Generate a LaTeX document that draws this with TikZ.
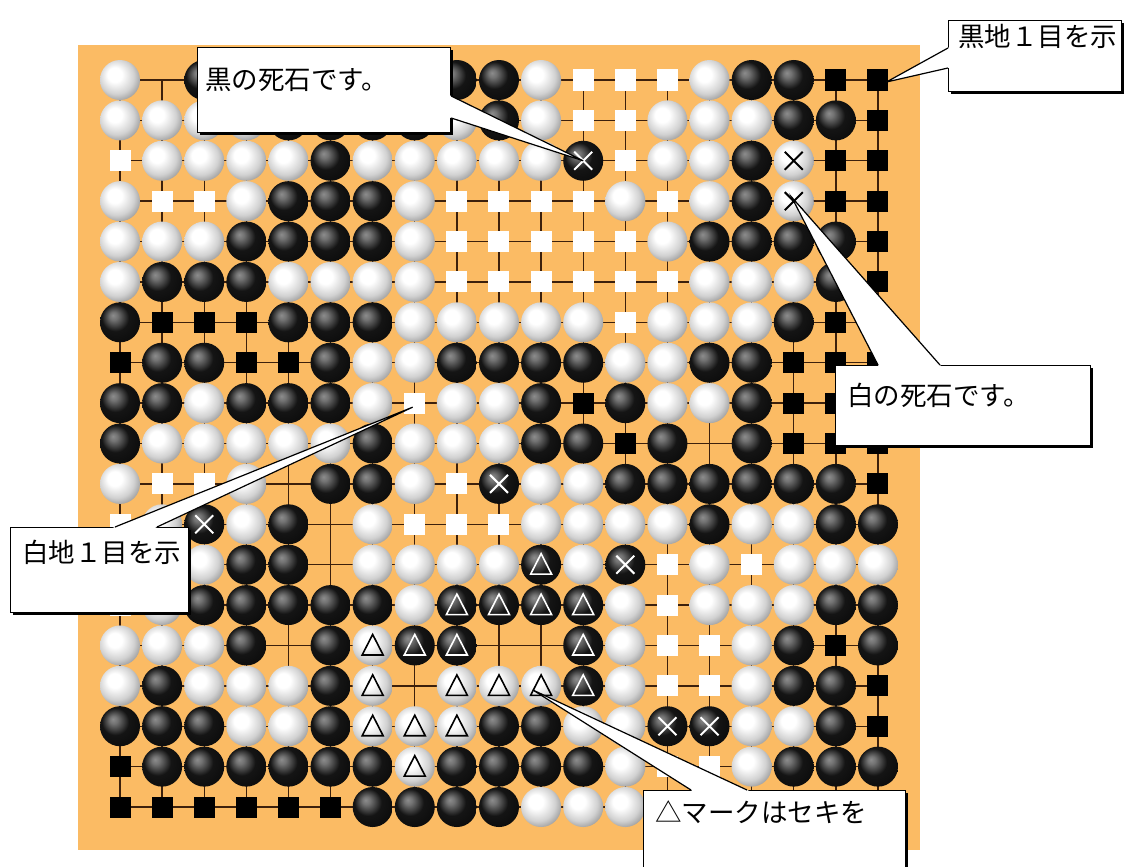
\documentclass[tikz,border=0pt]{standalone}
\usepackage{fontspec}
\newfontfamily\jpfont{Noto Sans CJK JP}
\usetikzlibrary{calc,shadows}

\definecolor{board}{RGB}{251,187,100}
\definecolor{gridbrown}{RGB}{60,32,12}

% stone shadings
\pgfdeclareradialshading{wstone}{\pgfpoint{-8bp}{8bp}}{color(0bp)=(white); color(9bp)=(white); color(22bp)=(black!18); color(30bp)=(black!38); color(50bp)=(black!45)}
\pgfdeclareradialshading{bstone}{\pgfpoint{-9bp}{9bp}}{color(0bp)=(black!45); color(5bp)=(black!55); color(17bp)=(black!92); color(50bp)=(black)}

\tikzset{
  gridline/.style={gridbrown, line width=1.4pt},
  callbox/.style={draw, fill=white, line width=1.2pt, anchor=north west, inner sep=0pt,
    drop shadow={shadow xshift=2pt, shadow yshift=-2pt, opacity=1, fill=black}},
  calltext/.style={anchor=west, inner sep=0pt, font=\jpfont\fontsize{26.5}{30}\selectfont},
}

% W/B stones, w/b territory, X/Y dead (black/white), T/U seki (black/white), n nothing
\newcommand\goW[2]{\shade[shading=wstone] (#1,#2) circle (20pt);}
\newcommand\goB[2]{\shade[shading=bstone] (#1,#2) circle (20pt);}
\newcommand\gow[2]{\fill[white] (#1,#2) ++(-10.5pt,-10.5pt) rectangle ++(21pt,21pt);}
\newcommand\gob[2]{\fill[black] (#1,#2) ++(-10.5pt,-10.5pt) rectangle ++(21pt,21pt);}
\newcommand\gocross[3]{\draw[#3, line width=2pt] (#1,#2) ++(-9pt,-9pt) -- ++(18pt,18pt) (#1,#2) ++(-9pt,9pt) -- ++(18pt,-18pt);}
\newcommand\gotri[3]{\draw[#3, line width=1.6pt] (#1,#2) ++(0,11pt) -- ++(10.5pt,-20.5pt) -- ++(-21pt,0) -- cycle;}
\newcommand\goX[2]{\goB{#1}{#2}\gocross{#1}{#2}{white}}
\newcommand\goY[2]{\goW{#1}{#2}\gocross{#1}{#2}{black}}
\newcommand\goT[2]{\goB{#1}{#2}\gotri{#1}{#2}{white}}
\newcommand\goU[2]{\goW{#1}{#2}\gotri{#1}{#2}{black}}
\newcommand\gon[2]{}

% pointer of a callout: tip, base, base
\newcommand\pointer[3]{%
  \fill[white] (#1) -- ($(#2)!-0.06!(#1)$) -- ($(#3)!-0.06!(#1)$) -- cycle;
  \draw[line width=1.2pt, line join=miter] (#2) -- (#1) -- (#3);}

\begin{document}
\begin{tikzpicture}[x=1pt, y=-1pt]
\useasboundingbox[fill=white] (0,0) rectangle (1124,867);
\fill[board] (78,45) rectangle (920,850);

\begin{scope}[shift={(120,80)}, x=42.11pt, y=-40.39pt]
  \foreach \i in {0,...,18} {
    \draw[gridline] (\i,0) -- (\i,18);
    \draw[gridline] (0,\i) -- (18,\i);
  }
  \foreach \row [count=\rw from 0] in {%
    {W,n,B,n,n,n,n,n,B,B,W,w,w,w,W,B,B,b,b},
    {W,W,W,W,B,B,B,B,W,B,W,w,w,W,W,W,B,B,b},
    {w,W,W,W,W,B,W,W,W,W,W,X,w,W,W,B,Y,b,b},
    {W,w,w,W,B,B,B,W,w,w,w,w,W,w,W,B,Y,b,b},
    {W,W,W,B,B,B,B,W,w,w,w,w,w,W,B,B,B,B,b},
    {W,B,B,B,W,W,W,W,w,w,w,w,w,w,W,W,W,B,b},
    {B,b,b,b,B,B,B,W,W,W,W,W,w,W,W,W,B,b,b},
    {b,B,B,b,b,B,W,W,B,B,B,B,W,W,B,B,b,b,b},
    {B,B,W,B,B,B,W,w,W,W,B,b,B,W,W,B,b,b,b},
    {B,W,W,W,W,W,B,W,W,W,B,B,b,B,n,B,b,b,b},
    {W,w,w,W,n,B,B,W,w,X,W,W,B,B,B,B,B,B,b},
    {w,W,X,W,B,n,W,w,w,w,W,W,W,W,B,W,W,B,B},
    {n,n,W,B,B,n,W,W,W,W,T,W,X,w,W,w,W,W,W},
    {w,W,B,B,B,B,B,W,T,T,T,T,W,w,W,W,W,B,B},
    {W,W,W,B,n,B,U,T,T,n,n,T,W,w,w,W,B,b,B},
    {W,B,W,W,W,B,U,n,U,U,U,T,W,w,w,W,B,B,b},
    {B,B,B,W,W,B,U,U,U,B,B,W,W,X,X,W,W,B,b},
    {b,B,B,B,B,B,B,U,B,B,B,B,W,w,w,W,B,B,B},
    {b,b,b,b,b,b,B,B,B,B,W,W,W,n,n,n,n,n,n}%
  } {
    \foreach \st [count=\cl from 0] in \row {\csname go\st\endcsname{\cl}{\rw}}
  }
  \coordinate (deadB) at (11,2);
  \coordinate (deadW) at (15.95,2.9);
  \coordinate (blackpt) at (18.2,0.05);
  \coordinate (whitept) at (6.95,8.1);
  \coordinate (sekipt) at (9.8,15.1);
\end{scope}

% callouts
\node[callbox, minimum width=253pt, minimum height=85pt] (deadb) at (197,47) {};
\pointer{deadB}{$(deadb.north east)+(0,49)$}{$(deadb.north east)+(0,71)$}
\node[calltext] (deadbtxt) at ($(deadb.north west)+(8,33)$) {黒の死石です。};

\node[callbox, minimum width=173pt, minimum height=71pt] (blackar) at (948,20) {};
\pointer{blackpt}{$(blackar.north west)+(0,28)$}{$(blackar.north west)+(0,48)$}
\node[calltext] (blackartxt) at ($(blackar.north west)+(10,16)$) {黒地１目を示};

\node[callbox, minimum width=255pt, minimum height=80pt] (deadw) at (835,365) {};
\pointer{deadW}{$(deadw.north west)+(43,0)$}{$(deadw.north west)+(105,0)$}
\node[calltext] (deadwtxt) at ($(deadw.north west)+(12,30)$) {白の死石です。};

\node[callbox, minimum width=178pt, minimum height=85pt] (whitear) at (10,527) {};
\pointer{whitept}{$(whitear.north west)+(105,0)$}{$(whitear.north west)+(147,0)$}
\node[calltext] (whiteartxt) at ($(whitear.north west)+(12,25)$) {白地１目を示};

\node[callbox, minimum width=262pt, minimum height=100pt] (seki) at (643,790) {};
\pointer{sekipt}{$(seki.north west)+(48,0)$}{$(seki.north west)+(104,0)$}
\node[calltext] (sekitxt) at ($(seki.north west)+(12,22)$) {△マークはセキを};
\end{tikzpicture}
\end{document}
